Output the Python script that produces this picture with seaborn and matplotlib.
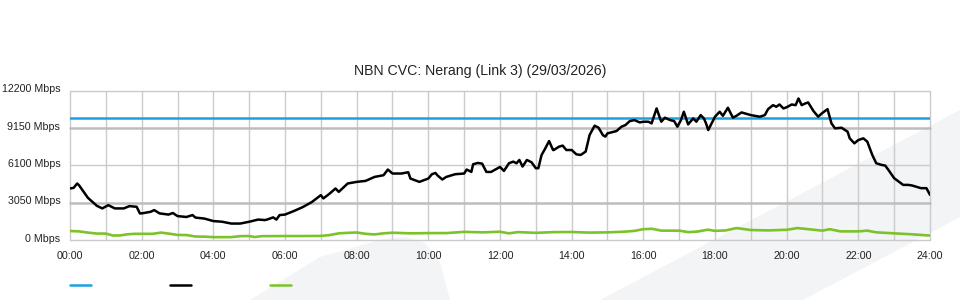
import matplotlib
matplotlib.use("Agg")
import matplotlib.pyplot as plt
from matplotlib.patches import Polygon
from matplotlib.lines import Line2D
import matplotlib.transforms as mtransforms
import seaborn as sns
import pandas as pd

# ---------------- data ----------------
title = "NBN CVC: Nerang (Link 3) (29/03/2026)"
capacity_mbps = 10000

traffic_hours = [
    0.0, 0.1, 0.2, 0.25, 0.5, 0.75, 0.9, 1.07, 1.25, 1.5, 1.66, 1.86, 1.95, 2.0,
    2.25, 2.35, 2.5, 2.75, 2.87, 3.0, 3.25, 3.42, 3.5, 3.75, 4.0, 4.25, 4.5, 4.75,
    5.0, 5.25, 5.44, 5.5, 5.67, 5.76, 5.85, 6.0, 6.25, 6.5, 6.75, 7.0, 7.07, 7.25,
    7.41, 7.5, 7.75, 8.0, 8.25, 8.5, 8.75, 8.87, 9.0, 9.25, 9.44, 9.5, 9.75, 10.0,
    10.1, 10.2, 10.25, 10.39, 10.5, 10.75, 11.0, 11.07, 11.2, 11.25, 11.38, 11.5,
    11.62, 11.75, 12.0, 12.11, 12.25, 12.37, 12.46, 12.54, 12.63, 12.75, 12.88,
    13.0, 13.07, 13.16, 13.25, 13.37, 13.48, 13.5, 13.65, 13.75, 13.85, 14.0,
    14.13, 14.25, 14.39, 14.5, 14.64, 14.75, 14.87, 14.94, 15.0, 15.25, 15.39,
    15.5, 15.62, 15.75, 15.9, 16.0, 16.14, 16.23, 16.37, 16.5, 16.6, 16.75, 16.86,
    16.95, 17.05, 17.13, 17.25, 17.39, 17.48, 17.6, 17.69, 17.75, 17.81, 18.0,
    18.13, 18.22, 18.36, 18.5, 18.6, 18.74, 19.0, 19.25, 19.39, 19.48, 19.62,
    19.71, 19.8, 19.91, 20.0, 20.14, 20.25, 20.33, 20.42, 20.51, 20.6, 20.75,
    20.88, 20.98, 21.14, 21.25, 21.35, 21.53, 21.7, 21.76, 21.89, 22.0, 22.14,
    22.25, 22.39, 22.5, 22.65, 22.75, 22.84, 23.0, 23.25, 23.39, 23.5, 23.75,
    23.9, 24.0,
]
traffic_mbps = [
    4221, 4270, 4628, 4490, 3457, 2806, 2594, 2860, 2594, 2594, 2782, 2725, 2188, 2188,
    2318, 2456, 2188, 2090, 2220, 1968, 1895, 2050, 1846, 1765, 1562, 1505, 1358, 1358,
    1505, 1684, 1643, 1684, 1862, 1684, 2050, 2090, 2383, 2708, 3115, 3676, 3407, 3814,
    4221, 3944, 4628, 4758, 4840, 5165, 5303, 5766, 5441, 5441, 5547, 5034, 4758, 5034,
    5384, 5490, 5303, 4953, 5165, 5384, 5441, 5766, 5571, 6197, 6303, 6251,
    5571, 5571, 5978, 5653, 6279, 6415, 6279, 6547, 6011, 6547, 6360,
    5872, 5872, 6954, 7417, 8092, 7360, 7360, 7637, 7718, 7360, 7360,
    7011, 6954, 7230, 8580, 9345, 9182, 8580, 8450, 8719, 8906, 9263,
    9394, 9719, 9800, 9613, 9670, 9670, 9532, 10752, 9670, 9996, 9800, 9719,
    9263, 9800, 10483, 9450, 9939, 9670, 10207, 9939, 9532, 8987, 10077,
    10483, 10150, 10809, 9996, 10155, 10427, 10207, 10077, 10207, 10695, 11020,
    10890, 11075, 10752, 10850, 11075, 11020, 11565, 11020, 11150, 11240, 10532,
    10077, 10345, 10695, 9532, 9125, 9180, 8857, 8312, 7905, 8174, 8312,
    8043, 6954, 6279, 6142, 6092, 5734, 5059, 4514, 4514, 4465, 4245,
    4245, 3700,
]

inbound_hours = [
    0.0, 0.25, 0.5, 0.75, 1.0, 1.2, 1.4, 1.6, 1.8, 2.0, 2.3, 2.55, 2.75, 3.0, 3.25,
    3.5, 3.75, 4.0, 4.5, 4.75, 5.0, 5.15, 5.35, 6.0, 6.5, 7.0, 7.25, 7.5, 7.75, 8.0,
    8.25, 8.5, 8.75, 9.0, 9.5, 10.0, 10.5, 11.0, 11.5, 12.0, 12.25, 12.5, 13.0, 13.5,
    14.0, 14.5, 15.0, 15.5, 15.75, 16.0, 16.25, 16.5, 17.0, 17.25, 17.5, 17.8, 18.0,
    18.3, 18.6, 19.0, 19.5, 20.0, 20.3, 20.6, 21.0, 21.2, 21.5, 22.0, 22.25, 22.5,
    22.75, 23.0, 23.5, 24.0,
]
inbound_mbps = [
    750, 720, 620, 540, 540, 380, 390, 480, 520, 520, 520, 620, 540, 430, 420,
    300, 290, 250, 250, 330, 340, 260, 330, 340, 340, 350, 420, 560, 600, 630,
    520, 470, 560, 610, 560, 580, 580, 680, 640, 690, 560, 660, 600, 660,
    670, 620, 640, 700, 760, 900, 930, 780, 780, 660, 700, 860, 760,
    800, 990, 830, 800, 850, 990, 900, 780, 900, 720, 720, 780, 640,
    600, 560, 480, 380,
]

y_ticks = [0, 3050, 6100, 9150, 12200]
y_tick_labels = ["0 Mbps", "3050 Mbps", "6100 Mbps", "9150 Mbps", "12200 Mbps"]
x_ticks = [0, 2, 4, 6, 8, 10, 12, 14, 16, 18, 20, 22, 24]
x_tick_labels = ["00:00", "02:00", "04:00", "06:00", "08:00", "10:00", "12:00",
                 "14:00", "16:00", "18:00", "20:00", "22:00", "24:00"]

# ---------------- style ----------------
sns.set_style("white")
plt.rcParams["font.family"] = ["Liberation Sans", "DejaVu Sans"]

BLUE = "#1ba1e2"
BLACK = "#000000"
GREEN = "#7cc22a"
GRID = "#cbcbcb"
TEXT = "#222222"

fig = plt.figure(figsize=(9.6, 3.0), dpi=100)
fig.patch.set_facecolor("white")

# faint background watermark shapes
W, H = 960.0, 300.0
def fpoly(pts):
    return Polygon([(x / W, 1 - y / H) for x, y in pts], closed=True,
                   transform=fig.transFigure, facecolor="#f3f4f6",
                   edgecolor="none", zorder=-10)
fig.add_artist(fpoly([(600, 300), (960, 110), (960, 217), (803, 300)]))
fig.add_artist(fpoly([(250, 300), (320, 257), (380, 240), (405, 237),
                      (425, 243), (440, 262), (450, 300)]))

ax = fig.add_axes([70 / W, 1 - 240.2 / H, 860 / W, (240.2 - 90.7) / H])
ax.set_facecolor("none")

df_traffic = pd.DataFrame({"hour": traffic_hours, "mbps": traffic_mbps})
df_inbound = pd.DataFrame({"hour": inbound_hours, "mbps": inbound_mbps})
df_cap = pd.DataFrame({"hour": [0, 24], "mbps": [capacity_mbps, capacity_mbps]})

sns.lineplot(data=df_cap, x="hour", y="mbps", ax=ax, color=BLUE, lw=1.8, zorder=3)
sns.lineplot(data=df_inbound, x="hour", y="mbps", ax=ax, color=GREEN, lw=1.9, zorder=4)
sns.lineplot(data=df_traffic, x="hour", y="mbps", ax=ax, color=BLACK, lw=1.8, zorder=5)

ax.set_xlim(0, 24)
ax.set_ylim(0, 12200)
ax.set_xticks(x_ticks)
ax.set_xticks(range(0, 25), minor=True)
ax.set_xticklabels(x_tick_labels)
ax.set_yticks(y_ticks)
ax.set_yticklabels(y_tick_labels)
ax.set_xlabel("")
ax.set_ylabel("")
ax.tick_params(axis="both", which="both", length=0, labelsize=7.7, colors=TEXT)
ax.tick_params(axis="x", pad=8)
ax.tick_params(axis="y", pad=7)

# y labels sit slightly above their gridlines
shift = mtransforms.ScaledTranslation(0, 2.5 / 100, fig.dpi_scale_trans)
for lab in ax.get_yticklabels():
    lab.set_transform(lab.get_transform() + shift)

for s in ax.spines.values():
    s.set_visible(False)

ax.grid(True, which="both", axis="x", color=GRID, lw=1.0, zorder=0)
ax.grid(True, which="major", axis="y", color=GRID, lw=1.0, zorder=0)
for val, gl in zip(y_ticks, ax.get_ygridlines()):
    gl.set_clip_on(False)
    if val in (3050, 9150):
        gl.set_color("#bdbdbd")
        gl.set_linewidth(1.8)
for gl in ax.get_xgridlines():
    gl.set_clip_on(False)
ax.set_axisbelow(True)

fig.text(0.5, 1 - 71 / H, title, ha="center", va="center", fontsize=10.2, color=TEXT)

# legend swatches (no labels)
for (x0, col) in [(70, BLUE), (170, BLACK), (270, GREEN)]:
    fig.add_artist(Line2D([x0 / W, (x0 + 21) / W], [1 - 285 / H, 1 - 285 / H],
                          transform=fig.transFigure, color=col, lw=1.8))

fig.savefig("out.png", dpi=100, facecolor="white")
